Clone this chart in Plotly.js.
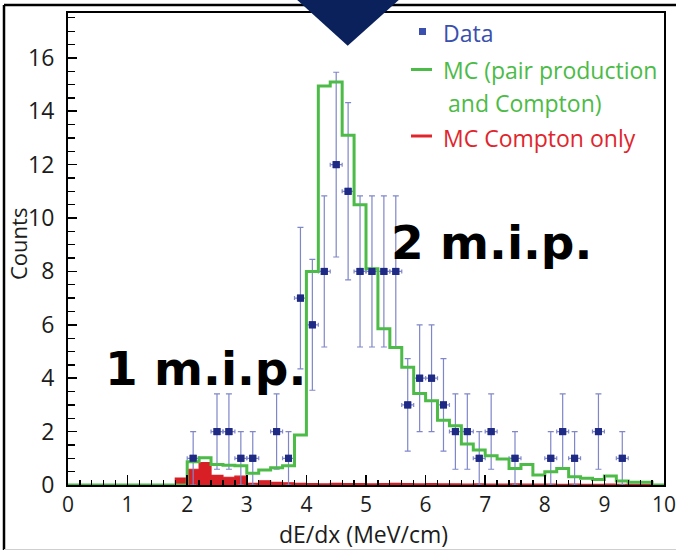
<!DOCTYPE html>
<html>
<head>
<meta charset="utf-8">
<script src="https://cdn.plot.ly/plotly-3.0.1.min.js"></script>
<style>html,body{margin:0;padding:0;background:#fff;}#chart{width:676px;height:551px;}</style>
</head>
<body>
<div id="chart"></div>
<script>
// Bin edges of the dE/dx histograms (MeV/cm)
const binEdges = [0,0.2,0.4,0.6,0.8,1.0,1.2,1.4,1.6,1.8,2.0,2.2,2.4,2.6,2.8,3.0,3.2,3.4,3.6,3.8,4.0,4.2,4.4,4.6,4.8,5.0,5.2,5.4,5.6,5.8,6.0,6.2,6.4,6.6,6.8,7.0,7.2,7.4,7.6,7.8,8.0,8.2,8.4,8.6,8.8,9.0,9.2,9.4,9.6,9.8,10.0];

// MC (pair production and Compton), counts per bin
const mcTotal = [0,0,0,0,0,0,0,0,0,0,0.87,1.02,0.77,0.74,0.72,0.44,0.56,0.65,0.72,1.87,8.0,14.95,15.1,13.1,10.5,8.1,5.85,5.15,4.41,3.43,3.16,2.43,2.22,1.54,1.31,1.10,0.97,0.62,0.77,0.37,0.5,0.62,0.31,0.25,0.21,0.34,0.15,0.1,0.1,0];

// MC Compton only, counts per bin
const mcCompton = [0,0,0,0,0,0,0,0,0,0.26,0.59,0.84,0.36,0.29,0.33,0.06,0.16,0.1,0.08,0.06,0.05,0.04,0.06,0.05,0.05,0.04,0.05,0.06,0.05,0.04,0.05,0.04,0.04,0.03,0.04,0.03,0.03,0.04,0.03,0.03,0.03,0.02,0.03,0.02,0.02,0.03,0.02,0.02,0.02,0];

// Data points
const dataX = [2.1,2.5,2.7,2.9,3.1,3.5,3.7,3.9,4.1,4.3,4.5,4.7,4.9,5.1,5.3,5.5,5.7,5.9,6.1,6.3,6.5,6.7,6.9,7.1,7.5,8.1,8.3,8.5,8.9,9.3];
const dataY = [1,2,2,1,1,2,1,7,6,8,12,11,8,8,8,8,3,4,4,3,2,2,1,2,1,1,2,1,2,1];
const dataErr = [1,1.41,1.41,1,1,1.41,1,2.65,2.45,2.83,3.46,3.32,2.83,2.83,2.83,2.83,1.73,2,2,1.73,1.41,1.41,1,1.41,1,1,1.41,1,1.41,1];

const xTickVals = [0,1,2,3,4,5,6,7,8,9,10];
const yTickVals = [0,2,4,6,8,10,12,14,16];

const stepY = arr => arr.concat([arr[arr.length-1]]);

const FONT = '"Open Sans", "Noto Sans", sans-serif';
const TXT = '#1c1c1c';

const traces = [
  {
    x: binEdges, y: stepY(mcCompton), type: 'scatter', mode: 'lines',
    line: {shape: 'hv', color: '#d81f26', width: 1.2},
    fill: 'tozeroy', fillcolor: '#d81f26', hoverinfo: 'skip', showlegend: false
  },
  {
    x: dataX, y: dataY, type: 'scatter', mode: 'markers',
    marker: {symbol: 'square', size: 7, color: '#1f2a85'},
    error_y: {type: 'data', array: dataErr, visible: true, color: '#7f87c9', thickness: 1.2, width: 3},
    error_x: {type: 'constant', value: 0.1, visible: true, color: '#7f87c9', thickness: 1.2, width: 2},
    showlegend: false
  },
  {
    x: binEdges, y: stepY(mcTotal), type: 'scatter', mode: 'lines',
    line: {shape: 'hv', color: '#4cbb47', width: 3},
    hoverinfo: 'skip', showlegend: false
  },
  {
    x: dataX, y: dataY, type: 'scatter', mode: 'markers',
    marker: {symbol: 'square', size: 7, color: '#1f2a85'},
    showlegend: false, hoverinfo: 'skip'
  }
];

// pixel helpers for paper coordinates
const L = 68, R = 12, T = 13, B = 66, W = 676, H = 551;
const pw = W - L - R, ph = H - T - B;
const px = x => (x - L) / pw;
const py = y => (H - B - y) / ph;

const layout = {
  width: W, height: H,
  margin: {l: L, r: R, t: T, b: B, pad: 0},
  paper_bgcolor: '#ffffff', plot_bgcolor: '#ffffff',
  showlegend: false,
  font: {family: FONT, color: TXT},
  xaxis: {
    range: [0, 10], tickvals: xTickVals, ticktext: xTickVals.map(String),
    ticks: 'inside', ticklen: 10, tickwidth: 1.5, tickcolor: '#000',
    minor: {dtick: 0.2, ticks: 'inside', ticklen: 5, tickwidth: 1.3, tickcolor: '#000'},
    showline: true, mirror: true, linecolor: '#000', linewidth: 2,
    showgrid: false, zeroline: false,
    tickfont: {family: FONT, size: 21, color: TXT},
    ticklabelstandoff: 0, ticklabeloverflow: 'allow',
    automargin: false
  },
  yaxis: {
    range: [0, 17.68], tickvals: yTickVals, ticktext: yTickVals.map(String),
    ticks: 'inside', ticklen: 9, tickwidth: 1.5, tickcolor: '#000',
    minor: {dtick: 0.5, ticks: 'inside', ticklen: 7, tickwidth: 1.3, tickcolor: '#000'},
    showline: true, mirror: true, linecolor: '#000', linewidth: 2,
    showgrid: false, zeroline: false,
    tickfont: {family: FONT, size: 23, color: TXT},
    ticklabelstandoff: 7, ticklabeloverflow: 'allow',
    automargin: false
  },
  shapes: [
    // outer frame lines
    {type: 'line', xref: 'paper', yref: 'paper', x0: px(4), x1: px(676), y0: py(5), y1: py(5), line: {color: '#000', width: 2.5}},
    {type: 'line', xref: 'paper', yref: 'paper', x0: px(4), x1: px(4), y0: py(5), y1: py(550), line: {color: '#000', width: 2.5}},
    {type: 'line', xref: 'paper', yref: 'paper', x0: px(4), x1: px(676), y0: py(549.5), y1: py(549.5), line: {color: '#cfcfcf', width: 1}},
    // big arrow
    {type: 'path', xref: 'paper', yref: 'paper',
     path: `M ${px(295)} ${py(-2)} L ${px(401)} ${py(-2)} L ${px(347.7)} ${py(45.7)} Z`,
     fillcolor: '#0a215c', line: {width: 0}},
    // legend symbols
    {type: 'rect', xref: 'paper', yref: 'paper', x0: px(419), x1: px(426), y0: py(28), y1: py(35), fillcolor: '#3a4fae', line: {width: 0}},
    {type: 'line', xref: 'paper', yref: 'paper', x0: px(411), x1: px(432), y0: py(69.5), y1: py(69.5), line: {color: '#4cbb47', width: 3}},
    {type: 'line', xref: 'paper', yref: 'paper', x0: px(411), x1: px(432), y0: py(136), y1: py(136), line: {color: '#e0262c', width: 3}}
  ],
  annotations: [
    {xref: 'paper', yref: 'paper', x: px(363), y: py(534), xanchor: 'center', yanchor: 'middle', showarrow: false,
     text: 'dE/dx (MeV/cm)', font: {family: FONT, size: 23, color: TXT}},
    {xref: 'paper', yref: 'paper', x: px(18), y: py(244), xanchor: 'center', yanchor: 'middle', showarrow: false,
     textangle: -90, text: 'Counts', font: {family: FONT, size: 22, color: TXT}},
    {xref: 'paper', yref: 'paper', x: px(441), y: py(33), xanchor: 'left', yanchor: 'middle', showarrow: false,
     text: 'Data', font: {family: FONT, size: 23, color: '#3a4fae'}},
    {xref: 'paper', yref: 'paper', x: px(441), y: py(70), xanchor: 'left', yanchor: 'middle', showarrow: false,
     text: 'MC (pair production', font: {family: FONT, size: 23, color: '#4cbb47'}},
    {xref: 'paper', yref: 'paper', x: px(446), y: py(103), xanchor: 'left', yanchor: 'middle', showarrow: false,
     text: 'and Compton)', font: {family: FONT, size: 23, color: '#4cbb47'}},
    {xref: 'paper', yref: 'paper', x: px(441), y: py(138), xanchor: 'left', yanchor: 'middle', showarrow: false,
     text: 'MC Compton only', font: {family: FONT, size: 23, color: '#e0262c'}},
    {xref: 'x', yref: 'y', x: 7.11, y: 9.1, xanchor: 'center', yanchor: 'middle', showarrow: false,
     text: '<b>2 m.i.p.</b>', font: {family: '"DejaVu Sans", sans-serif', size: 47, color: '#000'}},
    {xref: 'x', yref: 'y', x: 2.30, y: 4.35, xanchor: 'center', yanchor: 'middle', showarrow: false,
     text: '<b>1 m.i.p.</b>', font: {family: '"DejaVu Sans", sans-serif', size: 47, color: '#000'}}
  ]
};

Plotly.newPlot('chart', traces, layout, {displayModeBar: false, staticPlot: true});
</script>
</body>
</html>
